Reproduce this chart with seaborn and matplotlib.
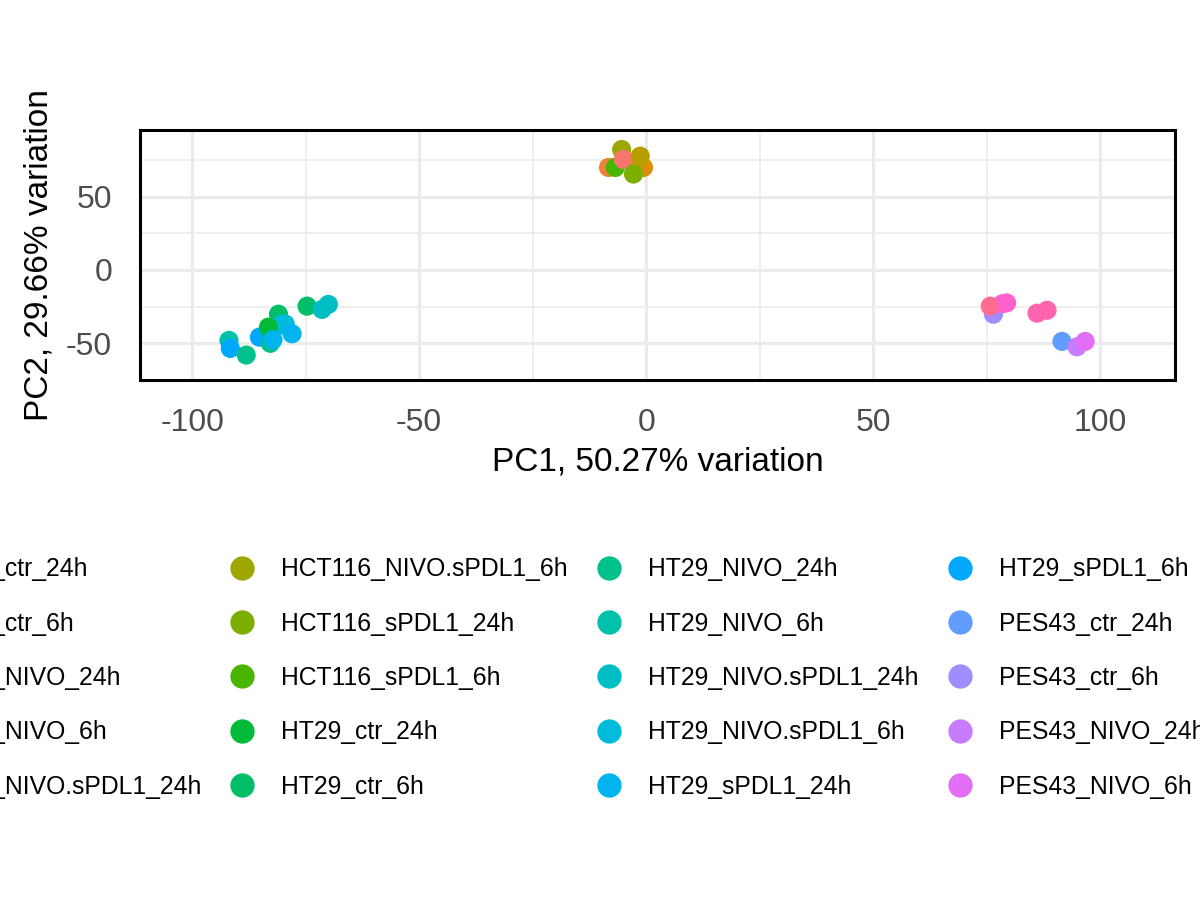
import numpy as np
import pandas as pd
import matplotlib
matplotlib.use("Agg")
import matplotlib.pyplot as plt
from matplotlib.lines import Line2D
import seaborn as sns

# grupos (orden de niveles del factor)
groups = [
    "HCT116_ctr_24h", "HCT116_ctr_6h", "HCT116_NIVO_24h", "HCT116_NIVO_6h",
    "HCT116_NIVO.sPDL1_24h", "HCT116_NIVO.sPDL1_6h", "HCT116_sPDL1_24h", "HCT116_sPDL1_6h",
    "HT29_ctr_24h", "HT29_ctr_6h", "HT29_NIVO_24h", "HT29_NIVO_6h",
    "HT29_NIVO.sPDL1_24h", "HT29_NIVO.sPDL1_6h", "HT29_sPDL1_24h", "HT29_sPDL1_6h",
    "PES43_ctr_24h", "PES43_ctr_6h", "PES43_NIVO_24h", "PES43_NIVO_6h",
    "PES43_NIVO.sPDL1_24h", "PES43_NIVO.sPDL1_6h", "PES43_sPDL1_24h", "PES43_sPDL1_6h",
]

# muestras (en orden de dibujo)
sample_group = [
    "HCT116_ctr_6h", "HCT116_NIVO_24h", "HCT116_NIVO_6h", "HCT116_NIVO.sPDL1_6h",
    "HCT116_sPDL1_6h", "HCT116_ctr_24h", "HCT116_NIVO.sPDL1_24h", "HCT116_sPDL1_24h",
    "HT29_NIVO_6h", "HT29_sPDL1_6h", "HT29_NIVO_24h", "HT29_ctr_6h",
    "HT29_NIVO.sPDL1_6h", "HT29_NIVO.sPDL1_6h", "HT29_sPDL1_6h", "HT29_NIVO_24h",
    "HT29_ctr_24h", "HT29_sPDL1_24h", "HT29_sPDL1_24h", "HT29_ctr_6h",
    "HT29_NIVO.sPDL1_24h", "HT29_NIVO.sPDL1_24h",
    "PES43_ctr_6h", "PES43_NIVO.sPDL1_24h", "PES43_sPDL1_6h", "PES43_NIVO.sPDL1_6h",
    "PES43_sPDL1_24h", "PES43_sPDL1_24h", "PES43_ctr_24h", "PES43_NIVO_24h", "PES43_NIVO_6h",
]
pc1 = [
    -8.3, -0.6, -2.0, -5.4, -6.8, -5.0, -1.3, -2.8,
    -91.9, -91.6, -88.1, -81.0, -80.5, -79.5, -85.2, -82.8,
    -83.2, -82.2, -78.0, -74.7, -71.4, -70.0,
    76.5, 78.5, 75.8, 79.4, 86.1, 88.3, 91.6, 94.9, 96.7,
]
pc2 = [
    69.8, 69.8, 73.0, 82.0, 69.8, 75.3, 77.5, 65.3,
    -48.0, -53.5, -58.0, -30.2, -37.5, -36.9, -45.8, -50.0,
    -39.0, -47.5, -43.5, -24.7, -26.9, -23.5,
    -30.2, -23.0, -24.7, -22.5, -29.5, -27.5, -48.7, -52.4, -48.7,
]


def hue_hex(h, c=100.0, l=65.0):
    # paleta HCL tipo ggplot
    hr = np.deg2rad(h)
    U, V = c * np.cos(hr), c * np.sin(hr)
    Xn, Yn, Zn = 95.047, 100.0, 108.883
    un = 4 * Xn / (Xn + 15 * Yn + 3 * Zn)
    vn = 9 * Yn / (Xn + 15 * Yn + 3 * Zn)
    Y = Yn * ((l + 16) / 116) ** 3
    u = U / (13 * l) + un
    v = V / (13 * l) + vn
    X = 9.0 * Y * u / (4 * v)
    Z = -X / 3 - 5 * Y + 3 * Y / v
    xyz = np.array([X, Y, Z]) / 100
    M = np.array([[3.240479, -1.537150, -0.498535],
                  [-0.969256, 1.875992, 0.041556],
                  [0.055648, -0.204043, 1.057311]])
    rgb = M @ xyz
    rgb = np.where(rgb > 0.00304, 1.055 * np.power(np.clip(rgb, 1e-9, None), 1 / 2.4) - 0.055, 12.92 * rgb)
    rgb = np.clip(rgb, 0, 1)
    return "#%02X%02X%02X" % tuple(int(round(x * 255)) for x in rgb)


n = len(groups)
palette = {g: hue_hex((15 + 360 / n * i) % 360) for i, g in enumerate(groups)}

df = pd.DataFrame({"PC1": pc1, "PC2": pc2, "group": sample_group})

sns.set_style("white")
plt.rcParams["font.family"] = ["Liberation Sans", "DejaVu Sans"]
plt.rcParams["axes.unicode_minus"] = False

fig = plt.figure(figsize=(12, 9), dpi=100)
ax = fig.add_axes([140 / 1200, 1 - 380 / 900, 1035 / 1200, 250 / 900])

sns.scatterplot(data=df, x="PC1", y="PC2", hue="group", hue_order=groups,
                palette=palette, s=190, linewidth=0, alpha=1, legend=False,
                ax=ax, zorder=3)

ax.set_xlim(-111.5, 116.5)
ax.set_ylim(-71.3, 95.3)
ax.set_xticks([-100, -50, 0, 50, 100])
ax.set_yticks([-50, 0, 50])
ax.set_xticks([-75, -25, 25, 75], minor=True)
ax.set_yticks([-75, -25, 25, 75], minor=True)
ax.grid(True, which="major", color="#EBEBEB", linewidth=2.3, zorder=0)
ax.grid(True, which="minor", color="#EBEBEB", linewidth=1.2, zorder=0)
ax.set_axisbelow(True)
for sp in ax.spines.values():
    sp.set_color("black")
    sp.set_linewidth(2.2)
ax.tick_params(axis="both", which="major", length=8, width=2.2, color="#333333",
               labelcolor="#4D4D4D", labelsize=23, direction="out")
ax.tick_params(axis="x", which="major", pad=12)
ax.tick_params(axis="y", which="major", pad=12)
ax.tick_params(which="minor", length=0)

ax.set_xlabel("PC1, 50.27% variation", fontsize=24, color="black", labelpad=6)
ax.set_ylabel("PC2, 29.66% variation", fontsize=24, color="black", labelpad=8)

handles = [Line2D([], [], marker="o", linestyle="", markersize=17.5,
                  markerfacecolor=palette[g], markeredgewidth=0) for g in groups]
fig.legend(handles, groups, loc="center", bbox_to_anchor=(711 / 1200, 1 - 678 / 900),
           ncol=5, frameon=False, fontsize=17.8, labelcolor="black",
           handlelength=1.0, handletextpad=1.1, columnspacing=1.15,
           labelspacing=1.23, borderaxespad=0)

plt.savefig("out.png", dpi=100)
